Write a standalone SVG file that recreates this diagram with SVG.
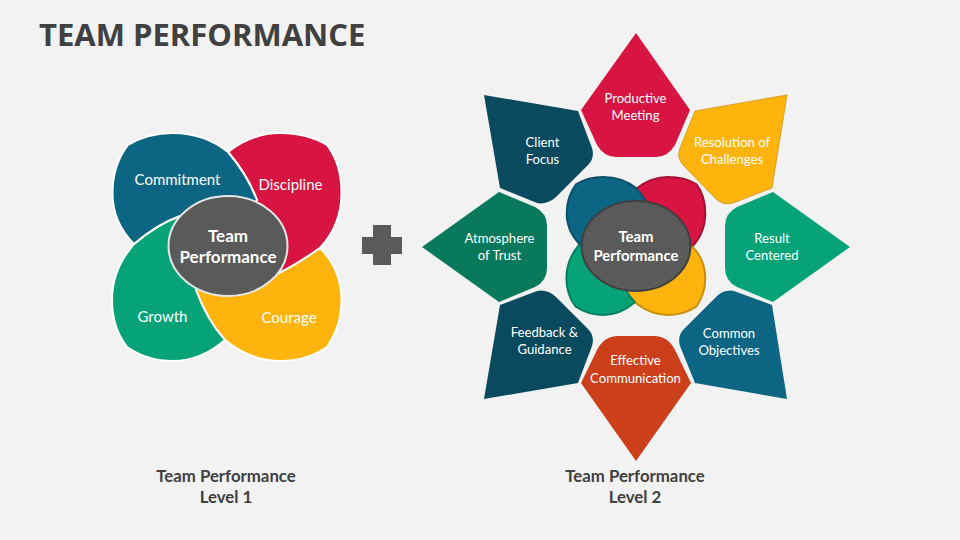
<svg xmlns="http://www.w3.org/2000/svg" width="960" height="540" viewBox="0 0 960 540">
<style>
text{font-family:"Lato","Open Sans","Liberation Sans",sans-serif;text-anchor:middle;fill:#fff;font-size:13.100px}
.l1{font-size:15px}
.c1{font-size:17px;font-weight:700}
.c2{font-size:14.900px;font-weight:700}
.cap{font-size:16.800px;font-weight:700;fill:#404040}
.title{font-family:"Open Sans","Liberation Sans",sans-serif;font-size:31px;font-weight:700;fill:#404040;text-anchor:start}
.pw{stroke:#fff;stroke-width:2;stroke-linejoin:round}
.blue{fill:#0D6584}.navy{fill:#094A5E}.red{fill:#D81442}.yel{fill:#FFB40D}.grn{fill:#06A378}.dgr{fill:#08795A}.org{fill:#CB3F1A}
.gray{fill:#5A5A5A}
</style>
<defs>
<path id="pD" d="M228 152C243 140 260 133 280 133C298 133 314 137 327 145C337 158 341.500 175 341.500 193C341.500 215 334 233 320 248C306 258 292 267 277 274L240 250L257 200C250 182 240 166 228 152Z"/>
<path id="pC" d="M320 248C334 262 341.500 280 341.500 300C341.500 318 336 334 327 347C314 356 298 361 280 361C259 361 241 353 225 340C212 326 203 309 196 290L240 250L277 274C292 267 306 258 320 248Z"/>
<path id="pG" d="M225 340C210 353 192 361 173 361C155 361 140 356 127 347C117 334 112 318 112 300C112 278 120 260 134 244C148 232 163 222 180 216L230 250L196 290C203 309 212 326 225 340Z"/>
<path id="pM" d="M134 244C120 230 112.500 212 112.500 193C112.500 175 118 158 128 145C141 137 156 133 173 133C195 133 213 140 228 152C240 166 250 182 257 200L230 250L180 216C163 222 148 232 134 244Z"/>
</defs>
<rect width="960" height="540" fill="#F2F2F2"/>
<text class="title" x="39" y="46">TEAM PERFORMANCE</text>

<g id="level1">
<g id="discipline"><use href="#pD" class="red pw"/><text class="l1" x="290.500" y="190">Discipline</text></g>
<g id="courage"><use href="#pC" class="yel pw"/><text class="l1" x="289" y="323">Courage</text></g>
<g id="growth"><use href="#pG" class="grn pw"/><text class="l1" x="162.500" y="322">Growth</text></g>
<g id="commitment"><use href="#pM" class="blue pw"/><text class="l1" x="177.500" y="185">Commitment</text></g>
<g id="center1"><ellipse class="gray" cx="228" cy="246" rx="59.500" ry="50" stroke="#E6E6E6" stroke-width="2"/><text class="c1" x="228" y="242">Team</text><text class="c1" x="228" y="263">Performance</text></g>
</g>

<g id="plus"><path class="gray" d="M373 225H391V237H402V254H391V265H373V254H362V237H373Z"/></g>

<g id="level2">
<g id="mini-petals" transform="translate(636 246) scale(.605) translate(-227 -247)" stroke-width="3.300" stroke-linejoin="round">
<use href="#pD" class="red" stroke="#A81035"/>
<use href="#pC" class="yel" stroke="#C98E0A"/>
<use href="#pG" class="grn" stroke="#058060"/>
<use href="#pM" class="blue" stroke="#0A5069"/>
</g>
<g id="center2"><ellipse class="gray" cx="636" cy="246" rx="54.500" ry="45" stroke="#404040" stroke-width="2"/><text class="c2" x="636" y="242">Team</text><text class="c2" x="636" y="261">Performance</text></g>

<g id="productive-meeting"><path class="red" d="M636 33L690 110L675 145Q668 157 656 157H616Q604 157 597 145L581 110Z"/><text x="635.500" y="103">Productive</text><text x="635.500" y="120">Meeting</text></g>
<g id="resolution"><path class="yel" stroke="#C98E0A" stroke-width=".7" d="M787 95L772 188L733 203Q724 206 716 199L684 166Q676 158 680 148L695 111Z"/><text x="732" y="147">Resolution of</text><text x="732" y="164">Challenges</text></g>
<g id="result-centered"><path class="grn" d="M850 247L773 302L737 287Q725 281 725 268V226Q725 213 737 207L773 192Z"/><text x="772" y="243">Result</text><text x="772" y="260">Centered</text></g>
<g id="common-objectives"><path class="blue" d="M787 399L695 383L680 346Q677 336 684 329L716 297Q724 289 734 291L772 305Z"/><text x="729" y="338">Common</text><text x="729" y="355">Objectives</text></g>
<g id="effective-communication"><path class="org" d="M636 461L691 383L675 350Q668 336 654 336H618Q604 336 597 350L581 383Z"/><text x="635.500" y="365">Effective</text><text x="635.500" y="383">Communication</text></g>
<g id="feedback-guidance"><path class="navy" d="M484 399L578 383L592 346Q595 336 588 329L556 297Q547 289 537 291L500 305Z"/><text x="544.500" y="337">Feedback &amp;</text><text x="544.500" y="354">Guidance</text></g>
<g id="atmosphere-of-trust"><path class="dgr" d="M422 247L499 192L535 207Q547 213 547 226V268Q547 281 535 287L499 302Z"/><text x="499.500" y="243">Atmosphere</text><text x="499.500" y="260">of Trust</text></g>
<g id="client-focus"><path class="navy" d="M484 95L578 111L592 148Q595 158 588 165L556 197Q547 205 537 203L500 188Z"/><text x="542.500" y="147">Client</text><text x="542.500" y="164">Focus</text></g>
</g>

<g id="captions">
<text class="cap" x="226" y="482">Team Performance</text><text class="cap" x="226" y="503">Level 1</text>
<text class="cap" x="635" y="482">Team Performance</text><text class="cap" x="635" y="503">Level 2</text>
</g>
</svg>
